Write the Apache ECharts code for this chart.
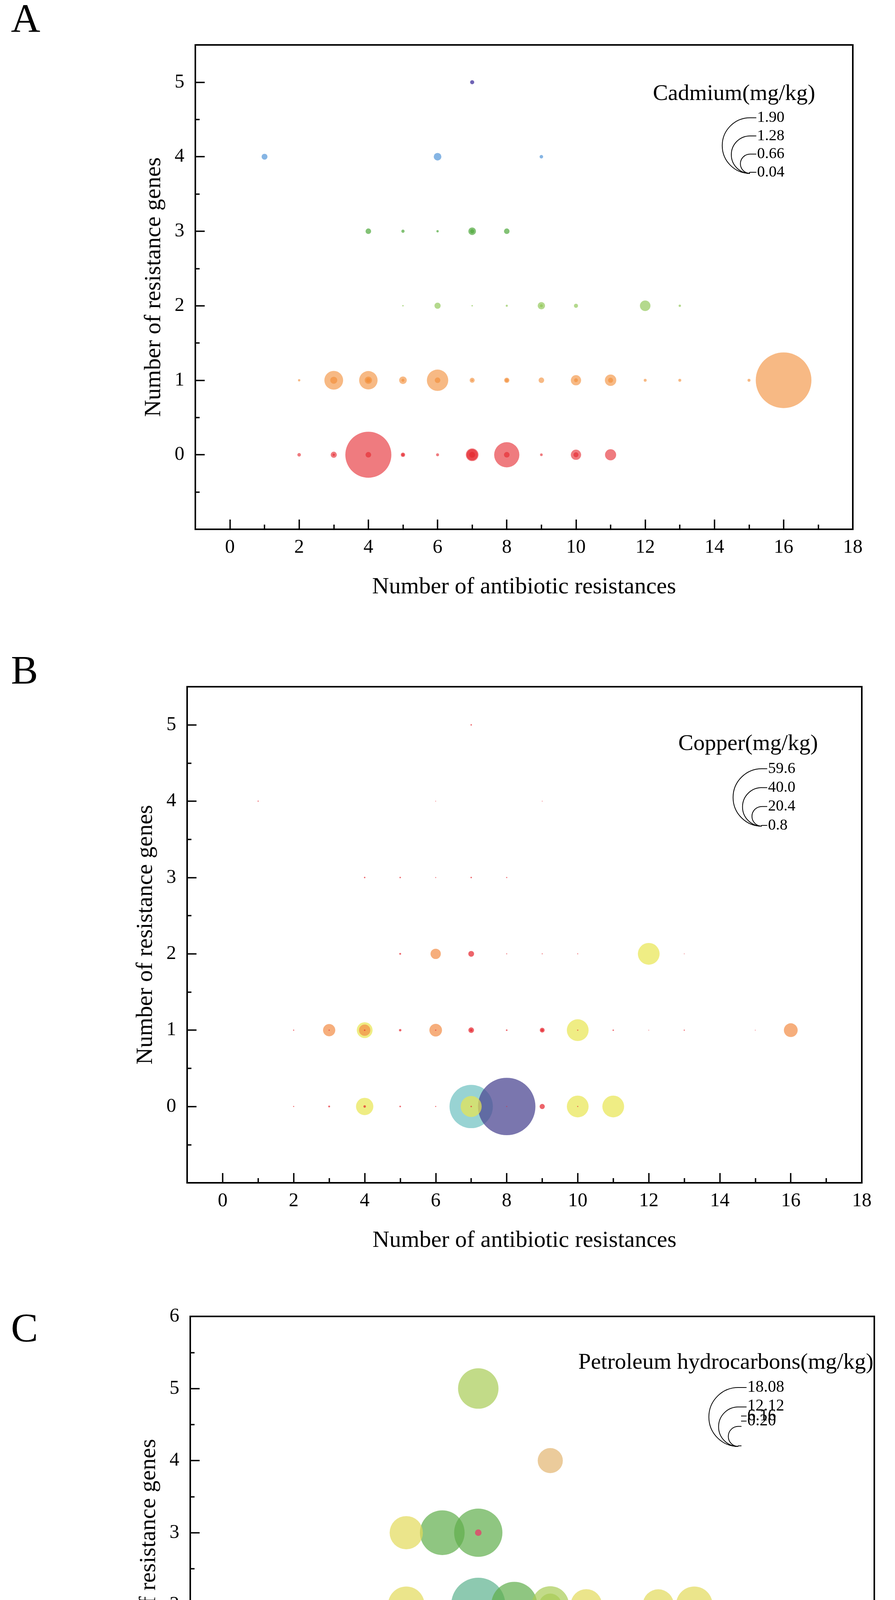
<!DOCTYPE html>
<html><head><meta charset="utf-8">
<script src="https://cdn.jsdelivr.net/npm/echarts@6.0.0/dist/echarts.min.js"></script>
<style>html,body{margin:0;padding:0;background:#fff}#c{width:2291px;height:4893px}</style>
</head><body><div id="c"></div>
<script>
// ---------- Tick values ----------
var xMajorTicks = [0,2,4,6,8,10,12,14,16,18];
var xMinorTicks = [1,3,5,7,9,11,13,15,17];
var yMajorTicksAB = [0,1,2,3,4,5];
var yMinorTicksAB = [-0.5,0.5,1.5,2.5,3.5,4.5];
var yMajorTicksC = [0,1,2,3,4,5,6];
var yMinorTicksC = [-0.5,0.5,1.5,2.5,3.5,4.5,5.5];

// ---------- Panel A : Cadmium (mg/kg) [antibiotic resistances, resistance genes, value] ----------
var cdRow0 = [[2,0,0.12],[3,0,0.21],[3,0,0.08],[4,0,1.57],[4,0,0.19],[5,0,0.15],[5,0,0.10],[6,0,0.10],[7,0,0.43],[7,0,0.38],[7,0,0.20],[8,0,0.86],[8,0,0.19],[9,0,0.09],[10,0,0.35],[10,0,0.17],[11,0,0.38]];
var cdRow1 = [[2,1,0.08],[3,1,0.64],[3,1,0.24],[4,1,0.63],[4,1,0.25],[4,1,0.15],[5,1,0.26],[5,1,0.10],[6,1,0.73],[6,1,0.19],[7,1,0.17],[7,1,0.06],[8,1,0.18],[8,1,0.12],[9,1,0.19],[10,1,0.35],[10,1,0.13],[11,1,0.39],[11,1,0.17],[12,1,0.10],[13,1,0.10],[15,1,0.10],[16,1,1.90]];
var cdRow2 = [[5,2,0.05],[6,2,0.21],[7,2,0.05],[8,2,0.07],[9,2,0.25],[9,2,0.10],[10,2,0.14],[12,2,0.36],[13,2,0.08]];
var cdRow3 = [[4,3,0.19],[5,3,0.11],[6,3,0.08],[7,3,0.26],[7,3,0.14],[8,3,0.19]];
var cdRow4 = [[1,4,0.20],[6,4,0.26],[9,4,0.12]];
var cdRow5 = [[7,5,0.14]];
var cdLegend = [1.90,1.28,0.66,0.04];

// ---------- Panel B : Copper (mg/kg) ----------
var cuRed = [[2,1,1.2],[5,1,2.5],[7,1,5.8],[7,1,2.5],[8,1,1.7],[9,1,5.0],[9,1,2.5],[11,1,1.5],[12,1,0.8],[13,1,1.2],[15,1,0.8],
             [2,0,1.2],[3,0,2.0],[5,0,1.7],[6,0,1.2],[9,0,5.4],[8,0,1.0],
             [1,4,1.2],[6,4,0.8],[9,4,0.8],[7,5,1.5],
             [4,3,1.5],[5,3,1.5],[6,3,1.0],[7,3,1.5],[8,3,1.2],
             [5,2,2.0],[7,2,6.0],[8,2,1.0],[9,2,1.0],[10,2,1.0],[13,2,0.8],
             [3,1,1.2],[4,1,1.5],[6,1,1.2],[10,1,1.2],[4,0,2.5],[7,0,1.5],[10,0,1.2]];
var cuOrange = [[3,1,12.7],[4,1,11.8],[6,1,13.1],[6,2,10.7],[16,1,14.3]];
var cuYellow = [[4,1,16.4],[10,1,22.6],[12,2,22.6],[4,0,18.0],[7,0,21.8],[10,0,22.6],[11,0,22.6]];
var cuTeal = [[7,0,45.0]];
var cuPurple = [[8,0,59.6]];
var cuLegend = [59.6,40.0,20.4,0.8];

// ---------- Panel C : Petroleum hydrocarbons (mg/kg) ----------
var phTeal = [[4,0,18.08],[4,1,17.7],[6,1,16.0],[7,2,16.6],[9,1,17.2]];
var phGreen = [[6,3,13.7],[7,3,14.8],[8,2,14.1],[4,1,14.8],[7,1,14.2],[8,1,14.4],[9,1,14.9],[13,1,14.4],[16,1,14.4],[4,1,11.6]];
var phLightGreen = [[7,5,12.4],[9,2,11.4],[3,1,11.0],[6,1,11.6],[8,0,12.6],[4,0,11.3],[8,1,11.0],[9,2,6.9],[6,1,7.0],[3,1,8.6],[4,0,8.3]];
var phYellow = [[5,3,10.2],[5,2,11.2],[10,2,9.6],[12,2,9.5],[13,2,11.2],[10,1,8.8],[10,1,7.5],[3,0,10.3],[5,0,9.8],[7,0,10.8]];
var phTan = [[9,4,7.7],[12,1,6.9],[15,1,8.1],[11,1,9.1],[5,1,7.6],[2,0,9.2],[6,0,7.7],[9,0,8.3],[10,0,8.1],[11,0,7.7],[2,1,0.5],[3,0,8.6]];
var phOrange = [[3,0,7.3],[5,0,8.3],[7,0,8.3],[11,1,6.9],[10,0,5.3],[5,1,6.5],[6,1,3.6]];
var phPink = [[6,2,2.3],[7,3,2.0],[5,1,3.3],[8,1,2.1],[11,1,1.6],[9,0,1.6],[10,0,2.0],[4,0,1.5]];
var phLegend = [18.08,12.12,6.16,0.20];

// ---------- Layout / style ----------
var FONT = "'Liberation Serif','Times New Roman',serif";
var grids = [
  {left:500, top:115, width:1683, height:1240, yMax:5.5, yMaj:yMajorTicksAB, yMin:yMinorTicksAB},
  {left:479, top:1758, width:1727, height:1270, yMax:5.5, yMaj:yMajorTicksAB, yMin:yMinorTicksAB},
  {left:487, top:3370, width:1751, height:1292, yMax:6, yMaj:yMajorTicksC, yMin:yMinorTicksC}
];
var kA = 75, kB = 2.466, kC = 8.35; // px of bubble diameter per mg/kg

var option = {animation:false, backgroundColor:'#fff', grid:[], xAxis:[], yAxis:[], series:[], graphic:[]};

grids.forEach(function(g, i){
  option.grid.push({left:g.left, top:g.top, width:g.width, height:g.height, show:true, borderColor:'#000', borderWidth:4, backgroundColor:'transparent'});
  var lab = {fontSize:50, fontFamily:FONT, color:'#000'};
  option.xAxis.push({gridIndex:i, type:'value', min:-1, max:18, position:'bottom',
    axisLine:{onZero:false, lineStyle:{color:'#000', width:4}},
    axisTick:{inside:true, length:25, lineStyle:{color:'#000', width:3.5}, customValues:xMajorTicks},
    axisLabel:Object.assign({margin:22, customValues:xMajorTicks}, lab),
    splitLine:{show:false},
    name:'Number of antibiotic resistances', nameLocation:'middle', nameGap:118,
    nameTextStyle:{fontSize:60, fontFamily:FONT, color:'#000'}});
  option.xAxis.push({gridIndex:i, type:'value', min:-1, max:18, position:'bottom',
    axisLine:{show:false, onZero:false},
    axisTick:{inside:true, length:12, lineStyle:{color:'#000', width:3.5}, customValues:xMinorTicks},
    axisLabel:{show:false}, splitLine:{show:false}});
  option.yAxis.push({gridIndex:i, type:'value', min:-1, max:g.yMax, position:'left',
    axisLine:{onZero:false, lineStyle:{color:'#000', width:4}},
    axisTick:{inside:true, length:24, lineStyle:{color:'#000', width:3.5}, customValues:g.yMaj},
    axisLabel:Object.assign({margin:28, customValues:g.yMaj}, lab),
    splitLine:{show:false},
    name:'Number of resistance genes', nameLocation:'middle', nameGap:76, nameRotate:90,
    nameTextStyle:{fontSize:60, fontFamily:FONT, color:'#000'}});
  option.yAxis.push({gridIndex:i, type:'value', min:-1, max:g.yMax, position:'left',
    axisLine:{show:false, onZero:false},
    axisTick:{inside:true, length:11, lineStyle:{color:'#000', width:3.5}, customValues:g.yMin},
    axisLabel:{show:false}, splitLine:{show:false}});
});

function ser(gi, data, color, op, k){
  return {type:'scatter', xAxisIndex:gi*2, yAxisIndex:gi*2,
    data:data.slice().sort(function(a,b){return b[2]-a[2];}),
    symbol:'circle', symbolSize:function(d){return d[2]*k;},
    itemStyle:{color:color, opacity:op}, silent:true, z:3};
}
// Panel A
option.series.push(ser(0, cdRow0, '#E5232A', 0.6, kA));
option.series.push(ser(0, cdRow1, '#F28A32', 0.6, kA));
option.series.push(ser(0, cdRow2, '#8CC550', 0.65, kA));
option.series.push(ser(0, cdRow3, '#4EA83C', 0.7, kA));
option.series.push(ser(0, cdRow4, '#5E9CDB', 0.75, kA));
option.series.push(ser(0, cdRow5, '#5648A8', 0.85, kA));
// Panel B
option.series.push(ser(1, cuTeal, '#6CC0C0', 0.7, kB));
option.series.push(ser(1, cuPurple, '#4E4893', 0.75, kB));
option.series.push(ser(1, cuYellow, '#E8E650', 0.7, kB));
option.series.push(ser(1, cuOrange, '#F28C45', 0.7, kB));
option.series.push(ser(1, cuRed, '#E5222B', 0.7, kB));
// Panel C
option.series.push(ser(2, phTeal, '#5DB28F', 0.7, kC));
option.series.push(ser(2, phGreen, '#5FAE4C', 0.7, kC));
option.series.push(ser(2, phLightGreen, '#A8CC55', 0.7, kC));
option.series.push(ser(2, phYellow, '#E3DA5A', 0.7, kC));
option.series.push(ser(2, phTan, '#E2B570', 0.7, kC));
option.series.push(ser(2, phOrange, '#E9A033', 0.75, kC));
option.series.push(ser(2, phPink, '#E4406A', 0.8, kC));

// ---------- Size legends & panel letters ----------
function txt(x, y, s, size, align){
  return {type:'text', x:x, y:y, z:10, style:{text:s, fontSize:size, fontFamily:FONT, fill:'#000', align:align||'left', verticalAlign:'middle'}};
}
function sizeLegend(title, tx, ty, cx, bottom, vals, k, labelX, labelYs, fsz){
  var els = [txt(tx, ty, title, 58, 'center')];
  vals.forEach(function(v, i){
    var r = v*k/2, top = bottom - 2*r;
    var ly = labelYs ? labelYs[i] : top;
    els.push({type:'arc', z:10, shape:{cx:cx, cy:bottom - r, r:r, startAngle:Math.PI*1.5, endAngle:Math.PI*0.5, clockwise:false},
      style:{stroke:'#000', fill:null, lineWidth:2}});
    if (Math.abs(ly - top) < 4) {
      els.push({type:'line', z:10, shape:{x1:cx, y1:top, x2:labelX - 2, y2:top}, style:{stroke:'#000', lineWidth:2}});
    } else {
      els.push({type:'line', z:10, shape:{x1:cx, y1:top, x2:cx + 8, y2:top}, style:{stroke:'#000', lineWidth:2}});
      els.push({type:'line', z:10, shape:{x1:labelX - 16, y1:ly, x2:labelX - 2, y2:ly}, style:{stroke:'#000', lineWidth:2}});
    }
    els.push(txt(labelX, ly, v.toFixed(title.indexOf('Copper')===0 ? 1 : 2), fsz, 'left'));
  });
  return els;
}
option.graphic = [].concat(
  [txt(28, 55, 'A', 104), txt(28, 1723, 'B', 104), txt(28, 3407, 'C', 104)],
  sizeLegend('Cadmium(mg/kg)', 1879, 241, 1920, 444, cdLegend, kA, 1938, null, 40),
  sizeLegend('Copper(mg/kg)', 1915, 1905, 1950, 2115, cuLegend, kB, 1966, null, 40),
  sizeLegend('Petroleum hydrocarbons(mg/kg)', 1858, 3489, 1890, 3703, phLegend, kC, 1913, [3552,3600,3625,3638], 42)
);

var chart = echarts.init(document.getElementById('c'), null, {renderer:'canvas'});
chart.setOption(option);
</script></body></html>
